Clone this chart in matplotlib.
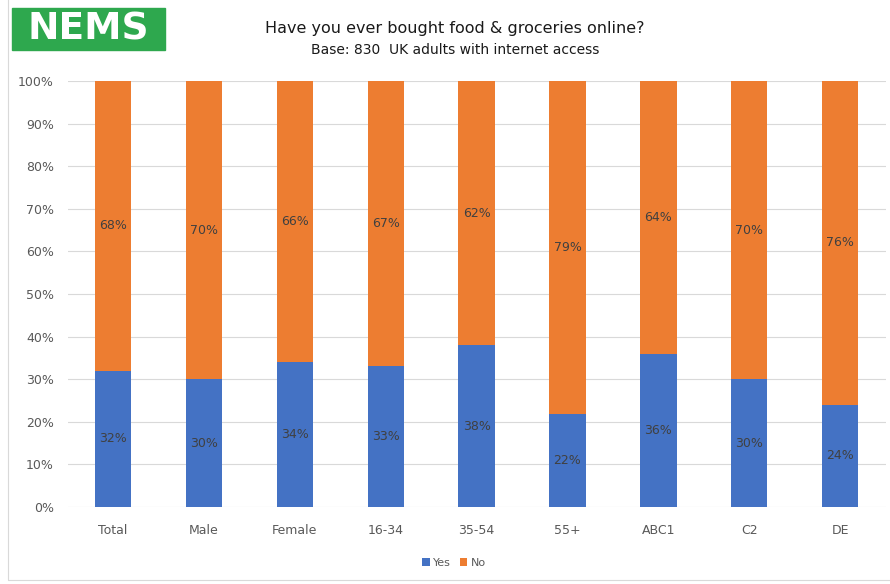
import numpy as np
import matplotlib.pyplot as plt
from matplotlib.patches import Rectangle

categories = ['Total', 'Male', 'Female', '16-34', '35-54', '55+', 'ABC1', 'C2', 'DE']
yes = [32, 30, 34, 33, 38, 22, 36, 30, 24]
no = [68, 70, 66, 67, 62, 79, 64, 70, 76]

plt.rcParams['font.family'] = ['DejaVu Sans']

# 100% stacked: normalise each column
yes_a = np.array(yes, dtype=float)
no_a = np.array(no, dtype=float)
tot = yes_a + no_a
yes_n = yes_a / tot * 100
no_n = no_a / tot * 100

fig = plt.figure(figsize=(8.9, 5.84), dpi=100)
ax = fig.add_axes([0.076, 0.132, 0.919, 0.729])

x = np.arange(len(categories))
w = 0.4
ax.bar(x, yes_n, w, color='#4472C4', label='Yes', zorder=3)
ax.bar(x, no_n, w, bottom=yes_n, color='#ED7D31', label='No', zorder=3)

for i in range(len(x)):
    ax.text(x[i], yes_n[i] / 2, f'{yes[i]}%', ha='center', va='center',
            fontsize=9, color='#404040', zorder=4)
    ax.text(x[i], yes_n[i] + no_n[i] / 2, f'{no[i]}%', ha='center', va='center',
            fontsize=9, color='#404040', zorder=4)

ax.set_xlim(-0.5, len(categories) - 0.5)
ax.set_ylim(0, 100)
ax.set_yticks(np.arange(0, 101, 10))
ax.set_yticklabels([f'{v}%' for v in range(0, 101, 10)])
ax.set_xticks(x)
ax.set_xticklabels(categories)
ax.tick_params(axis='both', length=0, labelsize=9, colors='#595959')
ax.tick_params(axis='x', pad=12)
ax.tick_params(axis='y', pad=10)
ax.grid(axis='y', color='#d9d9d9', linewidth=0.8, zorder=0)
for s in ax.spines.values():
    s.set_visible(False)

leg = fig.legend(loc='center', bbox_to_anchor=(0.51, 0.036), ncol=2, frameon=False,
                 fontsize=8, handlelength=0.7, handleheight=0.7, columnspacing=0.8,
                 handletextpad=0.3, labelcolor='#595959')

# logo
fig.patches.append(Rectangle((12 / 890, 1 - 50 / 584), 153 / 890, 42 / 584,
                             transform=fig.transFigure, color='#2EA84E'))
fig.text(88 / 890, 1 - 30 / 584, 'NEMS', ha='center', va='center', fontsize=27,
         fontweight='bold', color='white')

fig.text(455 / 890, 1 - 28 / 584, 'Have you ever bought food & groceries online?',
         ha='center', va='center', fontsize=11.5, color='#1a1a1a')
fig.text(455 / 890, 1 - 50 / 584, 'Base: 830  UK adults with internet access',
         ha='center', va='center', fontsize=10, color='#1a1a1a')

# chart area border
fig.patches.append(Rectangle((8 / 890, 4 / 584), 900 / 890, 600 / 584,
                             transform=fig.transFigure, fill=False,
                             edgecolor='#d9d9d9', linewidth=0.8))

fig.savefig('out.png', dpi=100)
